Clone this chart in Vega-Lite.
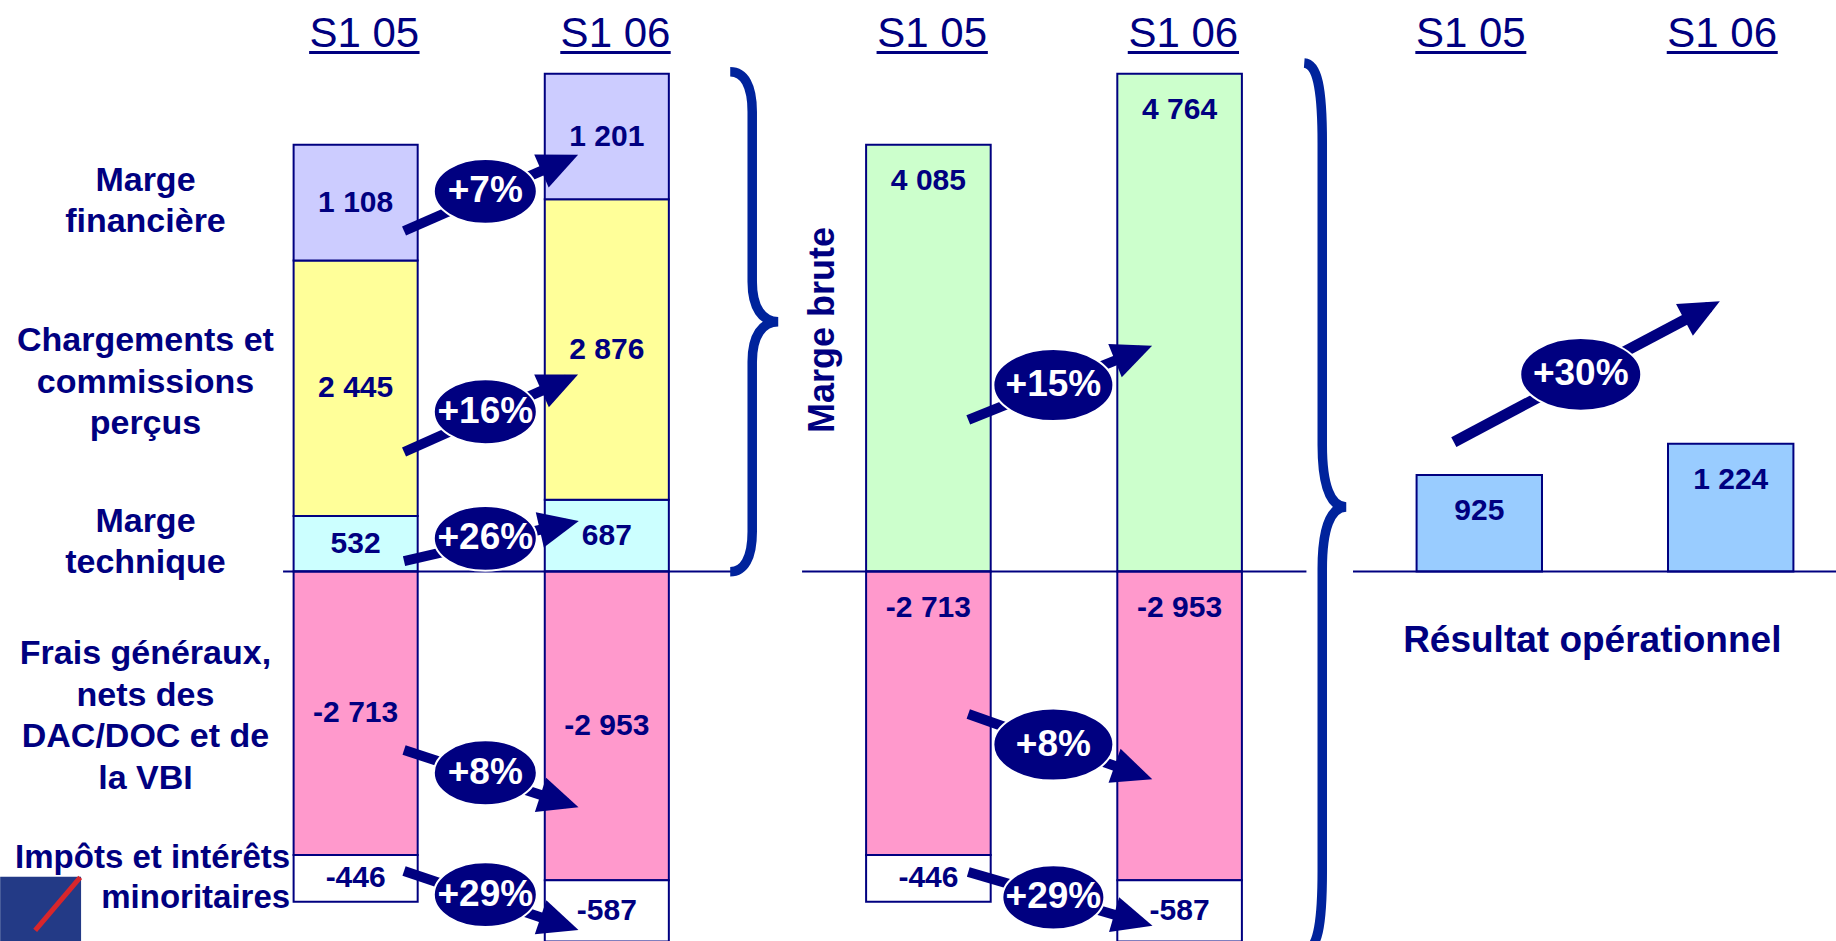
{
"$schema": "https://vega.github.io/schema/vega-lite/v6.json",
"padding": 0,
"background": "white",
"spacing": 0,
"bounds": "flush",
"config": {"view": {"stroke": null}, "locale": {"number": {"decimal": ",", "thousands": " ", "grouping": [3], "currency": ["", " €"], "minus": "-"}}},
"resolve": {"scale": {"x": "independent", "y": "independent"}},
"datasets": {
"bars": [
{"panel": "detail", "period": "S1 05", "segment": "Marge\ntechnique", "order": 1, "value": 532},
{"panel": "detail", "period": "S1 05", "segment": "Chargements et\ncommissions\nperçus", "order": 2, "value": 2445},
{"panel": "detail", "period": "S1 05", "segment": "Marge\nfinancière", "order": 3, "value": 1108},
{"panel": "detail", "period": "S1 05", "segment": "Frais généraux,\nnets des\nDAC/DOC et de\nla VBI", "order": 4, "value": -2713},
{"panel": "detail", "period": "S1 05", "segment": "Impôts et intérêts\nminoritaires", "order": 5, "value": -446},
{"panel": "detail", "period": "S1 06", "segment": "Marge\ntechnique", "order": 1, "value": 687},
{"panel": "detail", "period": "S1 06", "segment": "Chargements et\ncommissions\nperçus", "order": 2, "value": 2876},
{"panel": "detail", "period": "S1 06", "segment": "Marge\nfinancière", "order": 3, "value": 1201},
{"panel": "detail", "period": "S1 06", "segment": "Frais généraux,\nnets des\nDAC/DOC et de\nla VBI", "order": 4, "value": -2953},
{"panel": "detail", "period": "S1 06", "segment": "Impôts et intérêts\nminoritaires", "order": 5, "value": -587},
{"panel": "brute", "period": "S1 05", "segment": "Marge brute", "order": 1, "value": 4085},
{"panel": "brute", "period": "S1 05", "segment": "Frais généraux,\nnets des\nDAC/DOC et de\nla VBI", "order": 4, "value": -2713},
{"panel": "brute", "period": "S1 05", "segment": "Impôts et intérêts\nminoritaires", "order": 5, "value": -446},
{"panel": "brute", "period": "S1 06", "segment": "Marge brute", "order": 1, "value": 4764},
{"panel": "brute", "period": "S1 06", "segment": "Frais généraux,\nnets des\nDAC/DOC et de\nla VBI", "order": 4, "value": -2953},
{"panel": "brute", "period": "S1 06", "segment": "Impôts et intérêts\nminoritaires", "order": 5, "value": -587},
{"panel": "resultat", "period": "S1 05", "segment": "Résultat opérationnel", "order": 1, "value": 925},
{"panel": "resultat", "period": "S1 06", "segment": "Résultat opérationnel", "order": 1, "value": 1224}
],
"arrows": [
{"panel": "detail", "label": "+7%", "from": "S1 05", "to": "S1 06", "y0": 3259, "y1": 3942, "angle": -23.6},
{"panel": "detail", "label": "+16%", "from": "S1 05", "to": "S1 06", "y0": 1145, "y1": 1839, "angle": -24},
{"panel": "detail", "label": "+26%", "from": "S1 05", "to": "S1 06", "y0": 101, "y1": 459, "angle": -12.9},
{"panel": "detail", "label": "+8%", "from": "S1 05", "to": "S1 06", "y0": -1707, "y1": -2220, "angle": 18.2},
{"panel": "detail", "label": "+29%", "from": "S1 05", "to": "S1 06", "y0": -2865, "y1": -3393, "angle": 18.7},
{"panel": "brute", "label": "+15%", "from": "S1 05", "to": "S1 06", "y0": 1451, "y1": 2119, "angle": -22},
{"panel": "brute", "label": "+8%", "from": "S1 05", "to": "S1 06", "y0": -1363, "y1": -1948, "angle": 19.5},
{"panel": "brute", "label": "+29%", "from": "S1 05", "to": "S1 06", "y0": -2875, "y1": -3358, "angle": 16.3},
{"panel": "resultat", "label": "+30%", "from": "S1 05", "to": "S1 06", "y0": 1240, "y1": 2534, "angle": -27.9}
],
"span": [{"from": "S1 05", "to": "S1 06"}]
},
"hconcat": [
{
"width": 734, "height": 941,
"layer": [
{"data": {"name": "bars"},
 "transform": [{"filter": "datum.panel == 'detail'"}, {"stack": "value", "groupby": ["period"], "sort": [{"field": "order", "order": "ascending"}], "as": ["v0", "v1"]}],
 "mark": {"type": "bar", "stroke": "#000080", "strokeWidth": 2},
 "encoding": {
  "x": {"field": "period", "type": "nominal", "scale": {"type": "band", "domain": ["S1 05", "S1 06"], "paddingInner": 0.506, "paddingOuter": 0.7142, "align": 0.8184}, "axis": null},
  "y": {"field": "v0", "type": "quantitative", "scale": {"domain": [-3535, 5470], "nice": false, "zero": false}, "axis": null},
  "y2": {"field": "v1"},
  "color": {"field": "segment", "type": "nominal", "legend": null, "scale": {"domain": ["Marge\ntechnique", "Chargements et\ncommissions\nperçus", "Marge\nfinancière", "Frais généraux,\nnets des\nDAC/DOC et de\nla VBI", "Impôts et intérêts\nminoritaires", "Marge brute", "Résultat opérationnel"], "range": ["#CCFFFF", "#FFFF99", "#CCCCFF", "#FF99CC", "#FFFFFF", "#CCFFCC", "#99CCFF"]}}
 }},
{"data": {"name": "span"},
 "mark": {"type": "rule", "color": "#000080", "strokeWidth": 2},
 "encoding": {
  "x": {"field": "from", "type": "nominal", "bandPosition": -0.085, "scale": {"type": "band", "domain": ["S1 05", "S1 06"], "paddingInner": 0.506, "paddingOuter": 0.7142, "align": 0.8184}, "axis": null},
  "x2": {"field": "to", "bandPosition": 1.535},
  "y": {"datum": 0, "type": "quantitative", "scale": {"domain": [-3535, 5470], "nice": false, "zero": false}, "axis": null}
 }},
{"data": {"name": "bars"},
 "transform": [{"filter": "datum.panel == 'detail'"}, {"stack": "value", "groupby": ["period"], "sort": [{"field": "order", "order": "ascending"}], "as": ["v0", "v1"]}, {"fold": ["v0", "v1"], "as": ["edge", "ev"]}],
 "mark": {"type": "text", "font": "Liberation Sans", "fontWeight": "bold", "fontSize": 30, "color": "#000080", "align": "center", "baseline": "middle"},
 "encoding": {
  "x": {"field": "period", "type": "nominal", "scale": {"type": "band", "domain": ["S1 05", "S1 06"], "paddingInner": 0.506, "paddingOuter": 0.7142, "align": 0.8184}, "axis": null},
  "y": {"aggregate": "mean", "field": "ev", "type": "quantitative", "scale": {"domain": [-3535, 5470], "nice": false, "zero": false}, "axis": null},
  "text": {"field": "value", "type": "quantitative", "format": ",d"},
  "detail": {"field": "segment", "type": "nominal"}
 }},
{"data": {"name": "bars"},
 "transform": [{"filter": "datum.panel == 'detail'"}, {"stack": "value", "groupby": ["period"], "sort": [{"field": "order", "order": "ascending"}], "as": ["v0", "v1"]}, {"filter": "datum.period == 'S1 05' && (datum.order == 1 || datum.order == 3)"}, {"fold": ["v0", "v1"], "as": ["edge", "ev"]}],
 "mark": {"type": "text", "font": "Liberation Sans", "fontWeight": "bold", "fontSize": 34, "lineHeight": 41.5, "lineBreak": "\n", "color": "#000080", "align": "center", "baseline": "middle", "dy": -22},
 "encoding": {
  "x": {"field": "period", "type": "nominal", "bandPosition": -1.194, "scale": {"type": "band", "domain": ["S1 05", "S1 06"], "paddingInner": 0.506, "paddingOuter": 0.7142, "align": 0.8184}, "axis": null},
  "y": {"aggregate": "mean", "field": "ev", "type": "quantitative", "scale": {"domain": [-3535, 5470], "nice": false, "zero": false}, "axis": null},
  "text": {"field": "segment", "type": "nominal"}
 }},
{"data": {"name": "bars"},
 "transform": [{"filter": "datum.panel == 'detail'"}, {"stack": "value", "groupby": ["period"], "sort": [{"field": "order", "order": "ascending"}], "as": ["v0", "v1"]}, {"filter": "datum.period == 'S1 05' && datum.order == 2"}, {"fold": ["v0", "v1"], "as": ["edge", "ev"]}],
 "mark": {"type": "text", "font": "Liberation Sans", "fontWeight": "bold", "fontSize": 34, "lineHeight": 41.5, "lineBreak": "\n", "color": "#000080", "align": "center", "baseline": "middle", "dy": -47},
 "encoding": {
  "x": {"field": "period", "type": "nominal", "bandPosition": -1.194, "scale": {"type": "band", "domain": ["S1 05", "S1 06"], "paddingInner": 0.506, "paddingOuter": 0.7142, "align": 0.8184}, "axis": null},
  "y": {"aggregate": "mean", "field": "ev", "type": "quantitative", "scale": {"domain": [-3535, 5470], "nice": false, "zero": false}, "axis": null},
  "text": {"field": "segment", "type": "nominal"}
 }},
{"data": {"name": "bars"},
 "transform": [{"filter": "datum.panel == 'detail'"}, {"stack": "value", "groupby": ["period"], "sort": [{"field": "order", "order": "ascending"}], "as": ["v0", "v1"]}, {"filter": "datum.period == 'S1 05' && datum.order == 4"}, {"fold": ["v0", "v1"], "as": ["edge", "ev"]}],
 "mark": {"type": "text", "font": "Liberation Sans", "fontWeight": "bold", "fontSize": 34, "lineHeight": 41.5, "lineBreak": "\n", "color": "#000080", "align": "center", "baseline": "middle", "dy": -59},
 "encoding": {
  "x": {"field": "period", "type": "nominal", "bandPosition": -1.194, "scale": {"type": "band", "domain": ["S1 05", "S1 06"], "paddingInner": 0.506, "paddingOuter": 0.7142, "align": 0.8184}, "axis": null},
  "y": {"aggregate": "mean", "field": "ev", "type": "quantitative", "scale": {"domain": [-3535, 5470], "nice": false, "zero": false}, "axis": null},
  "text": {"field": "segment", "type": "nominal"}
 }},
{"data": {"name": "span"},
 "mark": {"type": "rect", "color": "#233A86"},
 "encoding": {
  "x": {"field": "from", "type": "nominal", "bandPosition": -2.365, "scale": {"type": "band", "domain": ["S1 05", "S1 06"], "paddingInner": 0.506, "paddingOuter": 0.7142, "align": 0.8184}, "axis": null},
  "x2": {"field": "from", "bandPosition": -1.713},
  "y": {"datum": -2920, "type": "quantitative", "scale": {"domain": [-3535, 5470], "nice": false, "zero": false}, "axis": null},
  "y2": {"datum": -3535}
 }},
{"data": {"name": "span"},
 "mark": {"type": "rule", "color": "#D8262B", "strokeWidth": 5},
 "encoding": {
  "x": {"field": "from", "type": "nominal", "bandPosition": -1.72, "scale": {"type": "band", "domain": ["S1 05", "S1 06"], "paddingInner": 0.506, "paddingOuter": 0.7142, "align": 0.8184}, "axis": null},
  "x2": {"field": "from", "bandPosition": -2.083},
  "y": {"datum": -2926, "type": "quantitative", "scale": {"domain": [-3535, 5470], "nice": false, "zero": false}, "axis": null},
  "y2": {"datum": -3433}
 }},
{"data": {"name": "bars"},
 "transform": [{"filter": "datum.panel == 'detail'"}, {"stack": "value", "groupby": ["period"], "sort": [{"field": "order", "order": "ascending"}], "as": ["v0", "v1"]}, {"filter": "datum.period == 'S1 05' && datum.order == 5"}, {"fold": ["v0", "v1"], "as": ["edge", "ev"]}],
 "mark": {"type": "text", "font": "Liberation Sans", "fontWeight": "bold", "fontSize": 33, "lineHeight": 40, "lineBreak": "\n", "color": "#000080", "align": "right", "baseline": "middle", "dy": -20},
 "encoding": {
  "x": {"field": "period", "type": "nominal", "bandPosition": -0.028, "scale": {"type": "band", "domain": ["S1 05", "S1 06"], "paddingInner": 0.506, "paddingOuter": 0.7142, "align": 0.8184}, "axis": null},
  "y": {"aggregate": "mean", "field": "ev", "type": "quantitative", "scale": {"domain": [-3535, 5470], "nice": false, "zero": false}, "axis": null},
  "text": {"field": "segment", "type": "nominal"}
 }},
{"data": {"name": "arrows"},
 "transform": [{"filter": "datum.panel == 'detail'"}],
 "mark": {"type": "rule", "color": "#000080", "strokeWidth": 10, "strokeCap": "butt"},
 "encoding": {
  "x": {"field": "from", "type": "nominal", "bandPosition": 0.89, "scale": {"type": "band", "domain": ["S1 05", "S1 06"], "paddingInner": 0.506, "paddingOuter": 0.7142, "align": 0.8184}, "axis": null},
  "x2": {"field": "to", "bandPosition": 0.18},
  "y": {"field": "y0", "type": "quantitative", "scale": {"domain": [-3535, 5470], "nice": false, "zero": false}, "axis": null},
  "y2": {"field": "y1"}
 }},
{"data": {"name": "arrows"},
 "transform": [{"filter": "datum.panel == 'detail'"}],
 "mark": {"type": "point", "shape": "M12,0 L-28,-18 L-28,18 Z", "size": 4, "filled": true, "color": "#000080", "opacity": 1},
 "encoding": {
  "x": {"field": "to", "type": "nominal", "bandPosition": 0.18, "scale": {"type": "band", "domain": ["S1 05", "S1 06"], "paddingInner": 0.506, "paddingOuter": 0.7142, "align": 0.8184}, "axis": null},
  "y": {"field": "y1", "type": "quantitative", "scale": {"domain": [-3535, 5470], "nice": false, "zero": false}, "axis": null},
  "angle": {"field": "angle", "type": "quantitative", "scale": null}
 }},
{"data": {"name": "arrows"},
 "transform": [{"filter": "datum.panel == 'detail'"}, {"fold": ["y0", "y1"], "as": ["end", "ev"]}],
 "mark": {"type": "point", "shape": "M-1,0 C-1,-0.348 -0.552,-0.63 0,-0.63 C0.552,-0.63 1,-0.348 1,0 C1,0.348 0.552,0.63 0,0.63 C-0.552,0.63 -1,0.348 -1,0 Z", "size": 10609, "filled": true, "color": "#000080", "stroke": "white", "strokeWidth": 2, "opacity": 1, "yOffset": -4},
 "encoding": {
  "x": {"field": "from", "type": "nominal", "bandPosition": 1.545, "scale": {"type": "band", "domain": ["S1 05", "S1 06"], "paddingInner": 0.506, "paddingOuter": 0.7142, "align": 0.8184}, "axis": null},
  "y": {"aggregate": "mean", "field": "ev", "type": "quantitative", "scale": {"domain": [-3535, 5470], "nice": false, "zero": false}, "axis": null},
  "detail": {"field": "label", "type": "nominal"}
 }},
{"data": {"name": "arrows"},
 "transform": [{"filter": "datum.panel == 'detail'"}, {"fold": ["y0", "y1"], "as": ["end", "ev"]}],
 "mark": {"type": "text", "font": "Liberation Sans", "fontWeight": "bold", "fontSize": 37, "color": "white", "align": "center", "baseline": "middle", "yOffset": -4},
 "encoding": {
  "x": {"field": "from", "type": "nominal", "bandPosition": 1.545, "scale": {"type": "band", "domain": ["S1 05", "S1 06"], "paddingInner": 0.506, "paddingOuter": 0.7142, "align": 0.8184}, "axis": null},
  "y": {"aggregate": "mean", "field": "ev", "type": "quantitative", "scale": {"domain": [-3535, 5470], "nice": false, "zero": false}, "axis": null},
  "text": {"field": "label", "type": "nominal"}
 }},
{"data": {"name": "bars"},
 "transform": [{"filter": "datum.panel == 'detail'"}, {"aggregate": [{"op": "count", "as": "n"}], "groupby": ["period"]}],
 "mark": {"type": "text", "font": "Liberation Sans", "fontSize": 42, "color": "#000080", "align": "center", "baseline": "alphabetic"},
 "encoding": {
  "x": {"field": "period", "type": "nominal", "bandPosition": 0.57, "scale": {"type": "band", "domain": ["S1 05", "S1 06"], "paddingInner": 0.506, "paddingOuter": 0.7142, "align": 0.8184}, "axis": null},
  "y": {"datum": 5025, "type": "quantitative", "scale": {"domain": [-3535, 5470], "nice": false, "zero": false}, "axis": null},
  "text": {"field": "period", "type": "nominal"}
 }},
{"data": {"name": "bars"},
 "transform": [{"filter": "datum.panel == 'detail'"}, {"aggregate": [{"op": "count", "as": "n"}], "groupby": ["period"]}],
 "mark": {"type": "rule", "color": "#000080", "strokeWidth": 3},
 "encoding": {
  "x": {"field": "period", "type": "nominal", "bandPosition": 0.125, "scale": {"type": "band", "domain": ["S1 05", "S1 06"], "paddingInner": 0.506, "paddingOuter": 0.7142, "align": 0.8184}, "axis": null},
  "x2": {"field": "period", "bandPosition": 1.015},
  "y": {"datum": 4967, "type": "quantitative", "scale": {"domain": [-3535, 5470], "nice": false, "zero": false}, "axis": null}
 }},
{"data": {"name": "span"},
 "mark": {"type": "point", "shape": "M-22,-250 C-8,-250 0,-236 0,-210 L0,-40 C0,-14 10,0 26,0 C10,0 0,14 0,40 L0,210 C0,236 -8,250 -22,250", "size": 4, "filled": false, "color": "#00239C", "strokeWidth": 9.5, "strokeCap": "butt", "opacity": 1},
 "encoding": {
  "x": {"field": "to", "type": "nominal", "bandPosition": 1.672, "scale": {"type": "band", "domain": ["S1 05", "S1 06"], "paddingInner": 0.506, "paddingOuter": 0.7142, "align": 0.8184}, "axis": null},
  "y": {"datum": 2391, "type": "quantitative", "scale": {"domain": [-3535, 5470], "nice": false, "zero": false}, "axis": null}
 }}
]
},
{
"width": 640, "height": 941,
"layer": [
{"data": {"name": "bars"},
 "transform": [{"filter": "datum.panel == 'brute'"}, {"stack": "value", "groupby": ["period"], "sort": [{"field": "order", "order": "ascending"}], "as": ["v0", "v1"]}],
 "mark": {"type": "bar", "stroke": "#000080", "strokeWidth": 2},
 "encoding": {
  "x": {"field": "period", "type": "nominal", "scale": {"type": "band", "domain": ["S1 05", "S1 06"], "paddingInner": 0.504, "paddingOuter": 0.5259, "align": 0.5}, "axis": null},
  "y": {"field": "v0", "type": "quantitative", "scale": {"domain": [-3535, 5470], "nice": false, "zero": false}, "axis": null},
  "y2": {"field": "v1"},
  "color": {"field": "segment", "type": "nominal", "legend": null, "scale": {"domain": ["Marge\ntechnique", "Chargements et\ncommissions\nperçus", "Marge\nfinancière", "Frais généraux,\nnets des\nDAC/DOC et de\nla VBI", "Impôts et intérêts\nminoritaires", "Marge brute", "Résultat opérationnel"], "range": ["#CCFFFF", "#FFFF99", "#CCCCFF", "#FF99CC", "#FFFFFF", "#CCFFCC", "#99CCFF"]}}
 }},
{"data": {"name": "span"},
 "mark": {"type": "rule", "color": "#000080", "strokeWidth": 2},
 "encoding": {
  "x": {"field": "from", "type": "nominal", "bandPosition": -0.514, "scale": {"type": "band", "domain": ["S1 05", "S1 06"], "paddingInner": 0.504, "paddingOuter": 0.5259, "align": 0.5}, "axis": null},
  "x2": {"field": "to", "bandPosition": 1.518},
  "y": {"datum": 0, "type": "quantitative", "scale": {"domain": [-3535, 5470], "nice": false, "zero": false}, "axis": null}
 }},
{"data": {"name": "bars"},
 "transform": [{"filter": "datum.panel == 'brute'"}, {"stack": "value", "groupby": ["period"], "sort": [{"field": "order", "order": "ascending"}], "as": ["v0", "v1"]}, {"filter": "datum.order < 5"}, {"fold": ["v0", "v1"], "as": ["edge", "ev"]}],
 "mark": {"type": "text", "font": "Liberation Sans", "fontWeight": "bold", "fontSize": 30, "color": "#000080", "align": "center", "baseline": "top", "dy": 21},
 "encoding": {
  "x": {"field": "period", "type": "nominal", "scale": {"type": "band", "domain": ["S1 05", "S1 06"], "paddingInner": 0.504, "paddingOuter": 0.5259, "align": 0.5}, "axis": null},
  "y": {"aggregate": "max", "field": "ev", "type": "quantitative", "scale": {"domain": [-3535, 5470], "nice": false, "zero": false}, "axis": null},
  "text": {"field": "value", "type": "quantitative", "format": ",d"},
  "detail": {"field": "segment", "type": "nominal"}
 }},
{"data": {"name": "bars"},
 "transform": [{"filter": "datum.panel == 'brute'"}, {"stack": "value", "groupby": ["period"], "sort": [{"field": "order", "order": "ascending"}], "as": ["v0", "v1"]}, {"filter": "datum.order == 5"}, {"fold": ["v0", "v1"], "as": ["edge", "ev"]}],
 "mark": {"type": "text", "font": "Liberation Sans", "fontWeight": "bold", "fontSize": 30, "color": "#000080", "align": "center", "baseline": "middle"},
 "encoding": {
  "x": {"field": "period", "type": "nominal", "scale": {"type": "band", "domain": ["S1 05", "S1 06"], "paddingInner": 0.504, "paddingOuter": 0.5259, "align": 0.5}, "axis": null},
  "y": {"aggregate": "mean", "field": "ev", "type": "quantitative", "scale": {"domain": [-3535, 5470], "nice": false, "zero": false}, "axis": null},
  "text": {"field": "value", "type": "quantitative", "format": ",d"},
  "detail": {"field": "segment", "type": "nominal"}
 }},
{"data": {"name": "bars"},
 "transform": [{"filter": "datum.panel == 'brute' && datum.period == 'S1 05' && datum.order == 1"}],
 "mark": {"type": "text", "font": "Liberation Sans", "fontWeight": "bold", "fontSize": 36, "color": "#000080", "align": "center", "baseline": "alphabetic", "angle": 270},
 "encoding": {
  "x": {"field": "period", "type": "nominal", "bandPosition": -0.257, "scale": {"type": "band", "domain": ["S1 05", "S1 06"], "paddingInner": 0.504, "paddingOuter": 0.5259, "align": 0.5}, "axis": null},
  "y": {"datum": 2312, "type": "quantitative", "scale": {"domain": [-3535, 5470], "nice": false, "zero": false}, "axis": null},
  "text": {"field": "segment", "type": "nominal"}
 }},
{"data": {"name": "arrows"},
 "transform": [{"filter": "datum.panel == 'brute'"}],
 "mark": {"type": "rule", "color": "#000080", "strokeWidth": 10, "strokeCap": "butt"},
 "encoding": {
  "x": {"field": "from", "type": "nominal", "bandPosition": 0.82, "scale": {"type": "band", "domain": ["S1 05", "S1 06"], "paddingInner": 0.504, "paddingOuter": 0.5259, "align": 0.5}, "axis": null},
  "x2": {"field": "to", "bandPosition": 0.19},
  "y": {"field": "y0", "type": "quantitative", "scale": {"domain": [-3535, 5470], "nice": false, "zero": false}, "axis": null},
  "y2": {"field": "y1"}
 }},
{"data": {"name": "arrows"},
 "transform": [{"filter": "datum.panel == 'brute'"}],
 "mark": {"type": "point", "shape": "M12,0 L-28,-18 L-28,18 Z", "size": 4, "filled": true, "color": "#000080", "opacity": 1},
 "encoding": {
  "x": {"field": "to", "type": "nominal", "bandPosition": 0.19, "scale": {"type": "band", "domain": ["S1 05", "S1 06"], "paddingInner": 0.504, "paddingOuter": 0.5259, "align": 0.5}, "axis": null},
  "y": {"field": "y1", "type": "quantitative", "scale": {"domain": [-3535, 5470], "nice": false, "zero": false}, "axis": null},
  "angle": {"field": "angle", "type": "quantitative", "scale": null}
 }},
{"data": {"name": "arrows"},
 "transform": [{"filter": "datum.panel == 'brute' && datum.label != '+29%'"}, {"fold": ["y0", "y1"], "as": ["end", "ev"]}],
 "mark": {"type": "point", "shape": "M-1,0 C-1,-0.331 -0.552,-0.6 0,-0.6 C0.552,-0.6 1,-0.331 1,0 C1,0.331 0.552,0.6 0,0.6 C-0.552,0.6 -1,0.331 -1,0 Z", "size": 14400, "filled": true, "color": "#000080", "stroke": "white", "strokeWidth": 2, "opacity": 1},
 "encoding": {
  "x": {"field": "from", "type": "nominal", "bandPosition": 1.503, "scale": {"type": "band", "domain": ["S1 05", "S1 06"], "paddingInner": 0.504, "paddingOuter": 0.5259, "align": 0.5}, "axis": null},
  "y": {"aggregate": "mean", "field": "ev", "type": "quantitative", "scale": {"domain": [-3535, 5470], "nice": false, "zero": false}, "axis": null},
  "detail": {"field": "label", "type": "nominal"}
 }},
{"data": {"name": "arrows"},
 "transform": [{"filter": "datum.panel == 'brute' && datum.label == '+29%'"}, {"fold": ["y0", "y1"], "as": ["end", "ev"]}],
 "mark": {"type": "point", "shape": "M-1,0 C-1,-0.348 -0.552,-0.63 0,-0.63 C0.552,-0.63 1,-0.348 1,0 C1,0.348 0.552,0.63 0,0.63 C-0.552,0.63 -1,0.348 -1,0 Z", "size": 10404, "filled": true, "color": "#000080", "stroke": "white", "strokeWidth": 2, "opacity": 1},
 "encoding": {
  "x": {"field": "from", "type": "nominal", "bandPosition": 1.503, "scale": {"type": "band", "domain": ["S1 05", "S1 06"], "paddingInner": 0.504, "paddingOuter": 0.5259, "align": 0.5}, "axis": null},
  "y": {"aggregate": "mean", "field": "ev", "type": "quantitative", "scale": {"domain": [-3535, 5470], "nice": false, "zero": false}, "axis": null},
  "detail": {"field": "label", "type": "nominal"}
 }},
{"data": {"name": "arrows"},
 "transform": [{"filter": "datum.panel == 'brute'"}, {"fold": ["y0", "y1"], "as": ["end", "ev"]}],
 "mark": {"type": "text", "font": "Liberation Sans", "fontWeight": "bold", "fontSize": 37, "color": "white", "align": "center", "baseline": "middle"},
 "encoding": {
  "x": {"field": "from", "type": "nominal", "bandPosition": 1.503, "scale": {"type": "band", "domain": ["S1 05", "S1 06"], "paddingInner": 0.504, "paddingOuter": 0.5259, "align": 0.5}, "axis": null},
  "y": {"aggregate": "mean", "field": "ev", "type": "quantitative", "scale": {"domain": [-3535, 5470], "nice": false, "zero": false}, "axis": null},
  "text": {"field": "label", "type": "nominal"}
 }},
{"data": {"name": "bars"},
 "transform": [{"filter": "datum.panel == 'brute'"}, {"aggregate": [{"op": "count", "as": "n"}], "groupby": ["period"]}],
 "mark": {"type": "text", "font": "Liberation Sans", "fontSize": 42, "color": "#000080", "align": "center", "baseline": "alphabetic"},
 "encoding": {
  "x": {"field": "period", "type": "nominal", "bandPosition": 0.53, "scale": {"type": "band", "domain": ["S1 05", "S1 06"], "paddingInner": 0.504, "paddingOuter": 0.5259, "align": 0.5}, "axis": null},
  "y": {"datum": 5025, "type": "quantitative", "scale": {"domain": [-3535, 5470], "nice": false, "zero": false}, "axis": null},
  "text": {"field": "period", "type": "nominal"}
 }},
{"data": {"name": "bars"},
 "transform": [{"filter": "datum.panel == 'brute'"}, {"aggregate": [{"op": "count", "as": "n"}], "groupby": ["period"]}],
 "mark": {"type": "rule", "color": "#000080", "strokeWidth": 3},
 "encoding": {
  "x": {"field": "period", "type": "nominal", "bandPosition": 0.084, "scale": {"type": "band", "domain": ["S1 05", "S1 06"], "paddingInner": 0.504, "paddingOuter": 0.5259, "align": 0.5}, "axis": null},
  "x2": {"field": "period", "bandPosition": 0.977},
  "y": {"datum": 4967, "type": "quantitative", "scale": {"domain": [-3535, 5470], "nice": false, "zero": false}, "axis": null}
 }},
{"data": {"name": "span"},
 "mark": {"type": "point", "shape": "M-18,-444 C-5,-443 0,-420 0,-364 L0,-62 C0,-22 8,0 24,0 C8,0 0,22 0,62 L0,364 C0,420 -5,443 -18,444", "size": 4, "filled": false, "color": "#00239C", "strokeWidth": 9.5, "strokeCap": "butt", "opacity": 1},
 "encoding": {
  "x": {"field": "to", "type": "nominal", "bandPosition": 1.645, "scale": {"type": "band", "domain": ["S1 05", "S1 06"], "paddingInner": 0.504, "paddingOuter": 0.5259, "align": 0.5}, "axis": null},
  "y": {"datum": 618, "type": "quantitative", "scale": {"domain": [-3535, 5470], "nice": false, "zero": false}, "axis": null}
 }}
]
},
{
"width": 462, "height": 941,
"layer": [
{"data": {"name": "bars"},
 "transform": [{"filter": "datum.panel == 'resultat'"}, {"stack": "value", "groupby": ["period"], "sort": [{"field": "order", "order": "ascending"}], "as": ["v0", "v1"]}],
 "mark": {"type": "bar", "stroke": "#000080", "strokeWidth": 2},
 "encoding": {
  "x": {"field": "period", "type": "nominal", "scale": {"type": "band", "domain": ["S1 05", "S1 06"], "paddingInner": 0.5012, "paddingOuter": 0.1694, "align": 0.5}, "axis": null},
  "y": {"field": "v0", "type": "quantitative", "scale": {"domain": [-3535, 5470], "nice": false, "zero": false}, "axis": null},
  "y2": {"field": "v1"},
  "color": {"field": "segment", "type": "nominal", "legend": null, "scale": {"domain": ["Marge\ntechnique", "Chargements et\ncommissions\nperçus", "Marge\nfinancière", "Frais généraux,\nnets des\nDAC/DOC et de\nla VBI", "Impôts et intérêts\nminoritaires", "Marge brute", "Résultat opérationnel"], "range": ["#CCFFFF", "#FFFF99", "#CCCCFF", "#FF99CC", "#FFFFFF", "#CCFFCC", "#99CCFF"]}}
 }},
{"data": {"name": "span"},
 "mark": {"type": "rule", "color": "#000080", "strokeWidth": 2},
 "encoding": {
  "x": {"field": "from", "type": "nominal", "bandPosition": -0.507, "scale": {"type": "band", "domain": ["S1 05", "S1 06"], "paddingInner": 0.5012, "paddingOuter": 0.1694, "align": 0.5}, "axis": null},
  "x2": {"field": "to", "bandPosition": 1.34},
  "y": {"datum": 0, "type": "quantitative", "scale": {"domain": [-3535, 5470], "nice": false, "zero": false}, "axis": null}
 }},
{"data": {"name": "bars"},
 "transform": [{"filter": "datum.panel == 'resultat'"}, {"stack": "value", "groupby": ["period"], "sort": [{"field": "order", "order": "ascending"}], "as": ["v0", "v1"]}, {"fold": ["v0", "v1"], "as": ["edge", "ev"]}],
 "mark": {"type": "text", "font": "Liberation Sans", "fontWeight": "bold", "fontSize": 30, "color": "#000080", "align": "center", "baseline": "top", "dy": 21},
 "encoding": {
  "x": {"field": "period", "type": "nominal", "scale": {"type": "band", "domain": ["S1 05", "S1 06"], "paddingInner": 0.5012, "paddingOuter": 0.1694, "align": 0.5}, "axis": null},
  "y": {"aggregate": "max", "field": "ev", "type": "quantitative", "scale": {"domain": [-3535, 5470], "nice": false, "zero": false}, "axis": null},
  "text": {"field": "value", "type": "quantitative", "format": ",d"},
  "detail": {"field": "segment", "type": "nominal"}
 }},
{"data": {"name": "bars"},
 "transform": [{"filter": "datum.panel == 'resultat' && datum.period == 'S1 05'"}],
 "mark": {"type": "text", "font": "Liberation Sans", "fontWeight": "bold", "fontSize": 37, "color": "#000080", "align": "center", "baseline": "alphabetic"},
 "encoding": {
  "x": {"field": "period", "type": "nominal", "bandPosition": 1.401, "scale": {"type": "band", "domain": ["S1 05", "S1 06"], "paddingInner": 0.5012, "paddingOuter": 0.1694, "align": 0.5}, "axis": null},
  "y": {"datum": -767, "type": "quantitative", "scale": {"domain": [-3535, 5470], "nice": false, "zero": false}, "axis": null},
  "text": {"field": "segment", "type": "nominal"}
 }},
{"data": {"name": "arrows"},
 "transform": [{"filter": "datum.panel == 'resultat'"}],
 "mark": {"type": "rule", "color": "#000080", "strokeWidth": 11, "strokeCap": "butt"},
 "encoding": {
  "x": {"field": "from", "type": "nominal", "bandPosition": 0.297, "scale": {"type": "band", "domain": ["S1 05", "S1 06"], "paddingInner": 0.5012, "paddingOuter": 0.1694, "align": 0.5}, "axis": null},
  "x2": {"field": "to", "bandPosition": 0.3285},
  "y": {"field": "y0", "type": "quantitative", "scale": {"domain": [-3535, 5470], "nice": false, "zero": false}, "axis": null},
  "y2": {"field": "y1"}
 }},
{"data": {"name": "arrows"},
 "transform": [{"filter": "datum.panel == 'resultat'"}],
 "mark": {"type": "point", "shape": "M12,0 L-28,-18 L-28,18 Z", "size": 4, "filled": true, "color": "#000080", "opacity": 1},
 "encoding": {
  "x": {"field": "to", "type": "nominal", "bandPosition": 0.3285, "scale": {"type": "band", "domain": ["S1 05", "S1 06"], "paddingInner": 0.5012, "paddingOuter": 0.1694, "align": 0.5}, "axis": null},
  "y": {"field": "y1", "type": "quantitative", "scale": {"domain": [-3535, 5470], "nice": false, "zero": false}, "axis": null},
  "angle": {"field": "angle", "type": "quantitative", "scale": null}
 }},
{"data": {"name": "arrows"},
 "transform": [{"filter": "datum.panel == 'resultat'"}, {"fold": ["y0", "y1"], "as": ["end", "ev"]}],
 "mark": {"type": "point", "shape": "M-1,0 C-1,-0.331 -0.552,-0.6 0,-0.6 C0.552,-0.6 1,-0.331 1,0 C1,0.331 0.552,0.6 0,0.6 C-0.552,0.6 -1,0.331 -1,0 Z", "size": 14641, "filled": true, "color": "#000080", "stroke": "white", "strokeWidth": 2, "opacity": 1},
 "encoding": {
  "x": {"field": "from", "type": "nominal", "bandPosition": 1.309, "scale": {"type": "band", "domain": ["S1 05", "S1 06"], "paddingInner": 0.5012, "paddingOuter": 0.1694, "align": 0.5}, "axis": null},
  "y": {"aggregate": "mean", "field": "ev", "type": "quantitative", "scale": {"domain": [-3535, 5470], "nice": false, "zero": false}, "axis": null},
  "detail": {"field": "label", "type": "nominal"}
 }},
{"data": {"name": "arrows"},
 "transform": [{"filter": "datum.panel == 'resultat'"}, {"fold": ["y0", "y1"], "as": ["end", "ev"]}],
 "mark": {"type": "text", "font": "Liberation Sans", "fontWeight": "bold", "fontSize": 37, "color": "white", "align": "center", "baseline": "middle"},
 "encoding": {
  "x": {"field": "from", "type": "nominal", "bandPosition": 1.309, "scale": {"type": "band", "domain": ["S1 05", "S1 06"], "paddingInner": 0.5012, "paddingOuter": 0.1694, "align": 0.5}, "axis": null},
  "y": {"aggregate": "mean", "field": "ev", "type": "quantitative", "scale": {"domain": [-3535, 5470], "nice": false, "zero": false}, "axis": null},
  "text": {"field": "label", "type": "nominal"}
 }},
{"data": {"name": "bars"},
 "transform": [{"filter": "datum.panel == 'resultat'"}, {"aggregate": [{"op": "count", "as": "n"}], "groupby": ["period"]}],
 "mark": {"type": "text", "font": "Liberation Sans", "fontSize": 42, "color": "#000080", "align": "center", "baseline": "alphabetic"},
 "encoding": {
  "x": {"field": "period", "type": "nominal", "bandPosition": 0.432, "scale": {"type": "band", "domain": ["S1 05", "S1 06"], "paddingInner": 0.5012, "paddingOuter": 0.1694, "align": 0.5}, "axis": null},
  "y": {"datum": 5025, "type": "quantitative", "scale": {"domain": [-3535, 5470], "nice": false, "zero": false}, "axis": null},
  "text": {"field": "period", "type": "nominal"}
 }},
{"data": {"name": "bars"},
 "transform": [{"filter": "datum.panel == 'resultat'"}, {"aggregate": [{"op": "count", "as": "n"}], "groupby": ["period"]}],
 "mark": {"type": "rule", "color": "#000080", "strokeWidth": 3},
 "encoding": {
  "x": {"field": "period", "type": "nominal", "bandPosition": -0.01, "scale": {"type": "band", "domain": ["S1 05", "S1 06"], "paddingInner": 0.5012, "paddingOuter": 0.1694, "align": 0.5}, "axis": null},
  "x2": {"field": "period", "bandPosition": 0.875},
  "y": {"datum": 4967, "type": "quantitative", "scale": {"domain": [-3535, 5470], "nice": false, "zero": false}, "axis": null}
 }}
]
}
]
}
